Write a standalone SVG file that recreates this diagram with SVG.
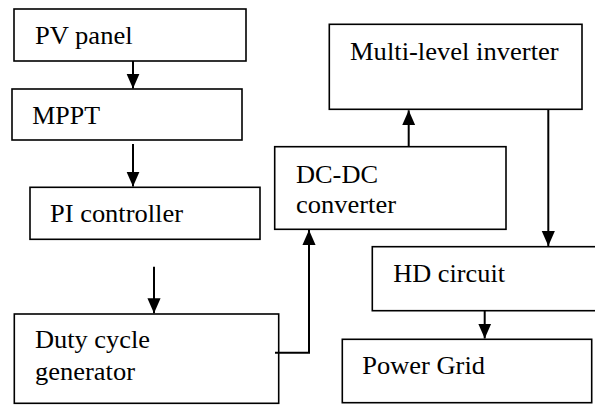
<svg xmlns="http://www.w3.org/2000/svg" width="595" height="405" viewBox="0 0 595 405">
<defs>
<style>
.box{fill:#fff;stroke:#000;stroke-width:1.6}
.c{fill:none;stroke:#000;stroke-width:2}
</style>
<marker id="ah" markerWidth="15" markerHeight="16" refX="16" refY="7" orient="auto" markerUnits="userSpaceOnUse" viewBox="0 0 16 14">
<path d="M0,0 L16,7 L0,14 Z" fill="#000"/>
</marker>
</defs>
<rect width="595" height="405" fill="#fff"/>
<g font-family="'Liberation Serif','Times New Roman',serif" font-size="26" fill="#000">
<g id="pv"><rect class="box" x="14" y="9" width="232" height="52"/><text x="35" y="44" textLength="97.6" lengthAdjust="spacingAndGlyphs">PV panel</text></g>
<g id="mppt"><rect class="box" x="12" y="89" width="230" height="51"/><text x="32.3" y="124" textLength="67.7" lengthAdjust="spacingAndGlyphs">MPPT</text></g>
<g id="pi"><rect class="box" x="30" y="187.3" width="230" height="52"/><text x="50" y="221.7" textLength="133" lengthAdjust="spacingAndGlyphs">PI controller</text></g>
<g id="duty"><rect class="box" x="14.3" y="314" width="264.4" height="89.3"/><text x="35" y="348.3" textLength="115" lengthAdjust="spacingAndGlyphs">Duty cycle</text><text x="35" y="380" textLength="100" lengthAdjust="spacingAndGlyphs">generator</text></g>
<g id="dcdc"><rect class="box" x="274.7" y="146.7" width="231.3" height="82.6"/><text x="296" y="182.7" textLength="82" lengthAdjust="spacingAndGlyphs">DC-DC</text><text x="296" y="212.7" textLength="100" lengthAdjust="spacingAndGlyphs">converter</text></g>
<g id="mli"><rect class="box" x="329.3" y="24.3" width="252.7" height="85"/><text x="350" y="60" textLength="208.7" lengthAdjust="spacingAndGlyphs">Multi-level inverter</text></g>
<g id="hd"><rect class="box" x="372.3" y="246.7" width="240" height="64"/><text x="393.3" y="281.7" textLength="111.7" lengthAdjust="spacingAndGlyphs">HD circuit</text></g>
<g id="grid"><rect class="box" x="342.3" y="339.3" width="249.4" height="63.4"/><text x="362.3" y="374" textLength="122.7" lengthAdjust="spacingAndGlyphs">Power Grid</text></g>
</g>
<g id="connectors">
<path class="c" d="M133,61 V88.5" marker-end="url(#ah)"/>
<path class="c" d="M133,144 V186.5" marker-end="url(#ah)"/>
<path class="c" d="M154,266.7 V313.3" marker-end="url(#ah)"/>
<path class="c" d="M275,352.7 H309 V230" marker-end="url(#ah)"/>
<path class="c" d="M408.7,146.7 V110.3" marker-end="url(#ah)"/>
<path class="c" d="M548.3,109.3 V246" marker-end="url(#ah)"/>
<path class="c" d="M484.7,310.7 V338.5" marker-end="url(#ah)"/>
</g>
</svg>
